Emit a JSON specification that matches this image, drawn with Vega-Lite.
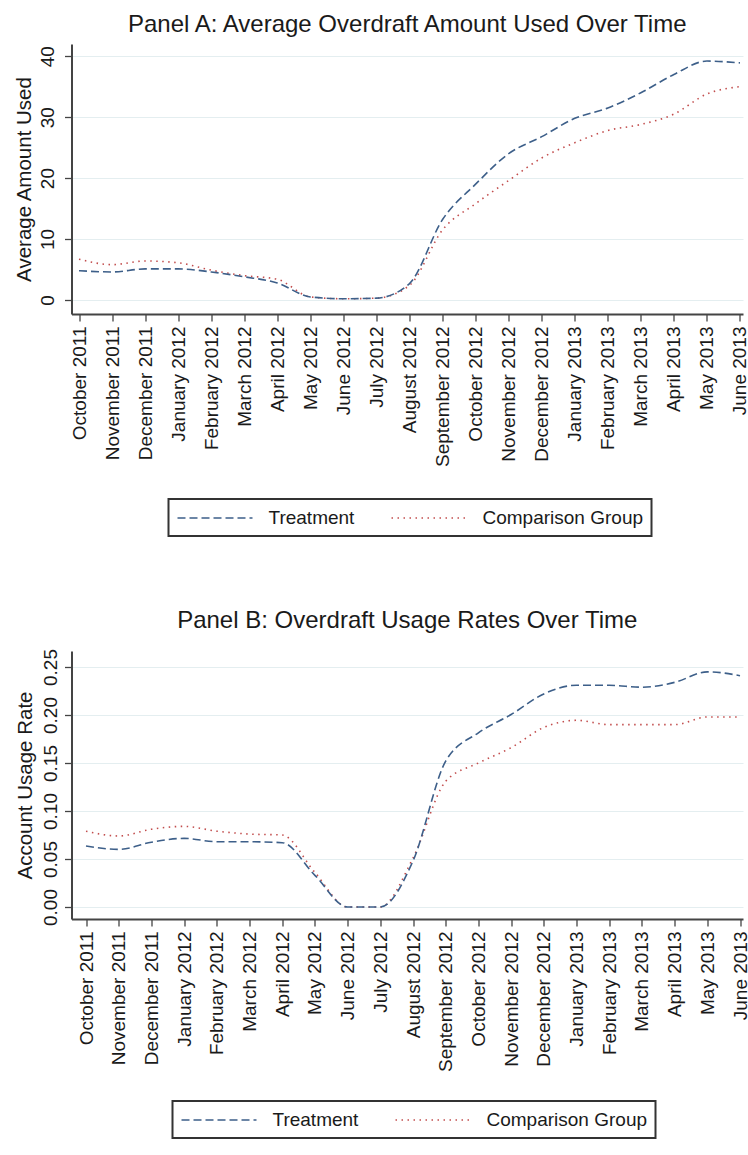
{
  "$schema": "https://vega.github.io/schema/vega-lite/v6.json",
  "background": "white",
  "padding": {"left": 14.5, "top": 13, "right": 0, "bottom": 2},
  "config": {
    "font": "Liberation Sans",
    "view": {"stroke": null},
    "title": {"fontWeight": "normal", "color": "#1a1a1a", "anchor": "middle", "frame": "group"},
    "axis": {
      "domainColor": "#444444", "domainWidth": 2,
      "tickColor": "#444444", "tickWidth": 1.3, "tickSize": 7,
      "labelColor": "#1a1a1a", "titleColor": "#1a1a1a",
      "labelFont": "Liberation Sans", "titleFont": "Liberation Sans",
      "titleFontWeight": "normal", "labelFontSize": 19, "titleFontSize": 20.5
    },
    "legend": {"labelFont": "Liberation Sans", "labelColor": "#1a1a1a", "labelLimit": 400}
  },
  "datasets": {
    "amount": [
      {"month": "October 2011", "group": "Comparison Group", "value": 6.7},
      {"month": "November 2011", "group": "Comparison Group", "value": 5.8},
      {"month": "December 2011", "group": "Comparison Group", "value": 6.4},
      {"month": "January 2012", "group": "Comparison Group", "value": 6.1},
      {"month": "February 2012", "group": "Comparison Group", "value": 4.9},
      {"month": "March 2012", "group": "Comparison Group", "value": 4.0},
      {"month": "April 2012", "group": "Comparison Group", "value": 3.4},
      {"month": "May 2012", "group": "Comparison Group", "value": 0.5},
      {"month": "June 2012", "group": "Comparison Group", "value": 0.2},
      {"month": "July 2012", "group": "Comparison Group", "value": 0.3},
      {"month": "August 2012", "group": "Comparison Group", "value": 2.4},
      {"month": "September 2012", "group": "Comparison Group", "value": 11.5},
      {"month": "October 2012", "group": "Comparison Group", "value": 15.8},
      {"month": "November 2012", "group": "Comparison Group", "value": 19.6},
      {"month": "December 2012", "group": "Comparison Group", "value": 23.3},
      {"month": "January 2013", "group": "Comparison Group", "value": 25.8},
      {"month": "February 2013", "group": "Comparison Group", "value": 27.8},
      {"month": "March 2013", "group": "Comparison Group", "value": 28.8},
      {"month": "April 2013", "group": "Comparison Group", "value": 30.5},
      {"month": "May 2013", "group": "Comparison Group", "value": 33.8},
      {"month": "June 2013", "group": "Comparison Group", "value": 35.0},
      {"month": "October 2011", "group": "Treatment", "value": 4.8},
      {"month": "November 2011", "group": "Treatment", "value": 4.6},
      {"month": "December 2011", "group": "Treatment", "value": 5.1},
      {"month": "January 2012", "group": "Treatment", "value": 5.1},
      {"month": "February 2012", "group": "Treatment", "value": 4.6},
      {"month": "March 2012", "group": "Treatment", "value": 3.8},
      {"month": "April 2012", "group": "Treatment", "value": 2.8},
      {"month": "May 2012", "group": "Treatment", "value": 0.5},
      {"month": "June 2012", "group": "Treatment", "value": 0.2},
      {"month": "July 2012", "group": "Treatment", "value": 0.3},
      {"month": "August 2012", "group": "Treatment", "value": 2.7},
      {"month": "September 2012", "group": "Treatment", "value": 13.2},
      {"month": "October 2012", "group": "Treatment", "value": 19.0},
      {"month": "November 2012", "group": "Treatment", "value": 24.0},
      {"month": "December 2012", "group": "Treatment", "value": 26.8},
      {"month": "January 2013", "group": "Treatment", "value": 29.8},
      {"month": "February 2013", "group": "Treatment", "value": 31.5},
      {"month": "March 2013", "group": "Treatment", "value": 34.0},
      {"month": "April 2013", "group": "Treatment", "value": 37.0},
      {"month": "May 2013", "group": "Treatment", "value": 39.2},
      {"month": "June 2013", "group": "Treatment", "value": 38.9}
    ],
    "rate": [
      {"month": "October 2011", "group": "Comparison Group", "value": 0.079},
      {"month": "November 2011", "group": "Comparison Group", "value": 0.074},
      {"month": "December 2011", "group": "Comparison Group", "value": 0.081},
      {"month": "January 2012", "group": "Comparison Group", "value": 0.084},
      {"month": "February 2012", "group": "Comparison Group", "value": 0.079},
      {"month": "March 2012", "group": "Comparison Group", "value": 0.076},
      {"month": "April 2012", "group": "Comparison Group", "value": 0.075},
      {"month": "May 2012", "group": "Comparison Group", "value": 0.036},
      {"month": "June 2012", "group": "Comparison Group", "value": 0.0},
      {"month": "July 2012", "group": "Comparison Group", "value": 0.0},
      {"month": "August 2012", "group": "Comparison Group", "value": 0.051},
      {"month": "September 2012", "group": "Comparison Group", "value": 0.131},
      {"month": "October 2012", "group": "Comparison Group", "value": 0.150},
      {"month": "November 2012", "group": "Comparison Group", "value": 0.166},
      {"month": "December 2012", "group": "Comparison Group", "value": 0.187},
      {"month": "January 2013", "group": "Comparison Group", "value": 0.1945},
      {"month": "February 2013", "group": "Comparison Group", "value": 0.190},
      {"month": "March 2013", "group": "Comparison Group", "value": 0.190},
      {"month": "April 2013", "group": "Comparison Group", "value": 0.190},
      {"month": "May 2013", "group": "Comparison Group", "value": 0.198},
      {"month": "June 2013", "group": "Comparison Group", "value": 0.198},
      {"month": "October 2011", "group": "Treatment", "value": 0.0635},
      {"month": "November 2011", "group": "Treatment", "value": 0.060},
      {"month": "December 2011", "group": "Treatment", "value": 0.0675},
      {"month": "January 2012", "group": "Treatment", "value": 0.0715},
      {"month": "February 2012", "group": "Treatment", "value": 0.068},
      {"month": "March 2012", "group": "Treatment", "value": 0.068},
      {"month": "April 2012", "group": "Treatment", "value": 0.067},
      {"month": "May 2012", "group": "Treatment", "value": 0.033},
      {"month": "June 2012", "group": "Treatment", "value": 0.0},
      {"month": "July 2012", "group": "Treatment", "value": 0.0},
      {"month": "August 2012", "group": "Treatment", "value": 0.048},
      {"month": "September 2012", "group": "Treatment", "value": 0.152},
      {"month": "October 2012", "group": "Treatment", "value": 0.1815},
      {"month": "November 2012", "group": "Treatment", "value": 0.2005},
      {"month": "December 2012", "group": "Treatment", "value": 0.222},
      {"month": "January 2013", "group": "Treatment", "value": 0.231},
      {"month": "February 2013", "group": "Treatment", "value": 0.231},
      {"month": "March 2013", "group": "Treatment", "value": 0.229},
      {"month": "April 2013", "group": "Treatment", "value": 0.234},
      {"month": "May 2013", "group": "Treatment", "value": 0.245},
      {"month": "June 2013", "group": "Treatment", "value": 0.241}
    ]
  },
  "columns": 1,
  "align": "none",
  "spacing": 71,
  "concat": [
    {
      "title": {"text": "Panel A: Average Overdraft Amount Used Over Time", "fontSize": 24, "offset": 7},
      "width": 671.5,
      "height": 270,
      "data": {"name": "amount"},
      "mark": {"type": "line", "interpolate": "monotone", "strokeWidth": 1.6},
      "encoding": {
        "x": {
          "field": "month", "type": "ordinal", "sort": null,
          "scale": {"type": "point", "padding": 0.159, "align": 0.714,
            "domain": ["October 2011", "November 2011", "December 2011", "January 2012", "February 2012", "March 2012", "April 2012", "May 2012", "June 2012", "July 2012", "August 2012", "September 2012", "October 2012", "November 2012", "December 2012", "January 2013", "February 2013", "March 2013", "April 2013", "May 2013", "June 2013"]},
          "axis": {"title": null, "labelAngle": -90, "labelAlign": "right", "labelBaseline": "middle", "labelPadding": 5, "grid": false}
        },
        "y": {
          "field": "value", "type": "quantitative",
          "scale": {"domain": [-2.3, 42], "nice": false, "zero": false},
          "axis": {"title": "Average Amount Used", "values": [0, 10, 20, 30, 40], "labelAngle": -90, "labelAlign": "center", "labelBaseline": "bottom", "labelPadding": 7, "titlePadding": 4, "grid": true, "gridColor": "#e4eef0", "gridWidth": 1}
        },
        "color": {
          "field": "group", "type": "nominal",
          "scale": {"domain": ["Treatment", "Comparison Group"], "range": ["#3d5f89", "#c24d4d"]},
          "legend": {"orient": "none", "legendX": 97, "legendY": 455, "direction": "horizontal", "title": null, "symbolType": "M-1,0H6.5", "symbolSize": 400, "symbolStrokeWidth": 1.5, "labelFontSize": 19, "labelOffset": 70, "columnPadding": 34, "padding": 8, "strokeColor": "#333333", "encode": {"legend": {"update": {"strokeWidth": {"value": 2}}}}}
        },
        "strokeDash": {
          "field": "group", "type": "nominal",
          "scale": {"domain": ["Treatment", "Comparison Group"], "range": [[8, 4], [1.5, 4.5]]},
          "legend": {"orient": "none", "legendX": 97, "legendY": 455, "direction": "horizontal", "title": null, "symbolType": "M-1,0H6.5", "symbolSize": 400, "symbolStrokeWidth": 1.5, "labelFontSize": 19, "labelOffset": 70, "columnPadding": 34, "padding": 8, "strokeColor": "#333333", "encode": {"legend": {"update": {"strokeWidth": {"value": 2}}}}}
        }
      }
    },
    {
      "title": {"text": "Panel B: Overdraft Usage Rates Over Time", "fontSize": 24, "offset": 16},
      "width": 671.5,
      "height": 268,
      "data": {"name": "rate"},
      "mark": {"type": "line", "interpolate": "monotone", "strokeWidth": 1.6},
      "encoding": {
        "x": {
          "field": "month", "type": "ordinal", "sort": null,
          "scale": {"type": "point", "padding": 0.2676, "align": 0.829,
            "domain": ["October 2011", "November 2011", "December 2011", "January 2012", "February 2012", "March 2012", "April 2012", "May 2012", "June 2012", "July 2012", "August 2012", "September 2012", "October 2012", "November 2012", "December 2012", "January 2013", "February 2013", "March 2013", "April 2013", "May 2013", "June 2013"]},
          "axis": {"title": null, "labelAngle": -90, "labelAlign": "right", "labelBaseline": "middle", "labelPadding": 5, "grid": false}
        },
        "y": {
          "field": "value", "type": "quantitative",
          "scale": {"domain": [-0.0125, 0.2667], "nice": false, "zero": false},
          "axis": {"title": "Account Usage Rate", "values": [0, 0.05, 0.1, 0.15, 0.2, 0.25], "format": ".2f", "labelAngle": -90, "labelAlign": "center", "labelBaseline": "bottom", "labelPadding": 4, "titlePadding": 6, "grid": true, "gridColor": "#e4eef0", "gridWidth": 1}
        },
        "color": {
          "field": "group", "type": "nominal",
          "scale": {"domain": ["Treatment", "Comparison Group"], "range": ["#3d5f89", "#c24d4d"]},
          "legend": {"orient": "none", "legendX": 101, "legendY": 450, "direction": "horizontal", "title": null, "symbolType": "M-1,0H6.5", "symbolSize": 400, "symbolStrokeWidth": 1.5, "labelFontSize": 19, "labelOffset": 70, "columnPadding": 34, "padding": 8, "strokeColor": "#333333", "encode": {"legend": {"update": {"strokeWidth": {"value": 2}}}}}
        },
        "strokeDash": {
          "field": "group", "type": "nominal",
          "scale": {"domain": ["Treatment", "Comparison Group"], "range": [[8, 4], [1.5, 4.5]]},
          "legend": {"orient": "none", "legendX": 101, "legendY": 450, "direction": "horizontal", "title": null, "symbolType": "M-1,0H6.5", "symbolSize": 400, "symbolStrokeWidth": 1.5, "labelFontSize": 19, "labelOffset": 70, "columnPadding": 34, "padding": 8, "strokeColor": "#333333", "encode": {"legend": {"update": {"strokeWidth": {"value": 2}}}}}
        }
      }
    }
  ],
  "resolve": {"scale": {"color": "independent", "strokeDash": "independent"}}
}
